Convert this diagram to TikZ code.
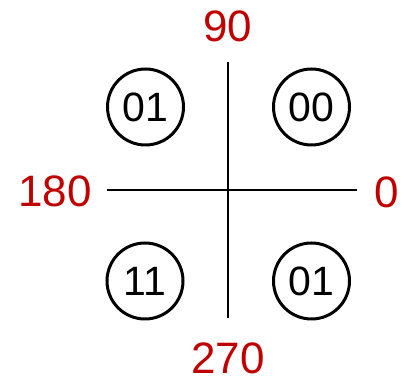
\documentclass[tikz,border=0pt]{standalone}
\usepackage{fontspec}
\setmainfont{Liberation Sans}
\definecolor{lblred}{HTML}{C00000}
\begin{document}
\begin{tikzpicture}[x=1pt,y=-1pt,
  axis/.style={line width=1.3pt,black},
  state/.style={circle,draw,line width=3pt,minimum size=76pt,inner sep=0pt,font=\fontsize{41}{41}\selectfont},
  angle/.style={text=lblred,inner sep=0pt,font=\fontsize{44}{44}\selectfont}]
\useasboundingbox (0,0) rectangle (413,379);
\coordinate (top) at (228,62);
\coordinate (bot) at (228,318);
\coordinate (left) at (107,190);
\coordinate (right) at (357,190);
\draw[axis] (top) -- (bot);
\draw[axis] (left) -- (right);
\node[state] (s01a) at (145.5,107) {01};
\node[state] (s00) at (311.5,107) {00};
\node[state] (s11) at (145,281) {11};
\node[state] (s01b) at (311.5,281) {01};
\node[angle] (a90) at (228,26) {90};
\node[angle] (a0) at (386.5,192) {0};
\node[angle] (a180) at (55,191) {180};
\node[angle] (a270) at (228,358) {270};
\end{tikzpicture}
\end{document}
